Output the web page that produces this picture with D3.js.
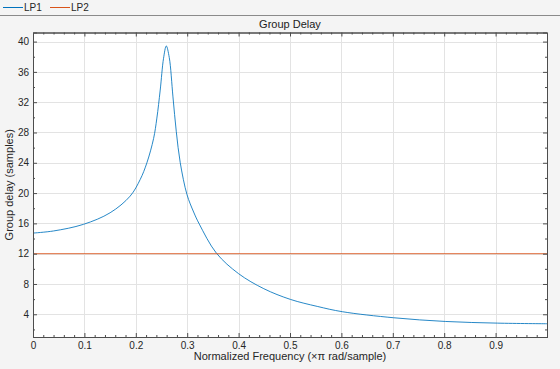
<!DOCTYPE html>
<html>
<head>
<meta charset="utf-8">
<script src="https://cdn.jsdelivr.net/npm/d3@7"></script>
<style>
  html, body { margin: 0; padding: 0; background: #f4f4f4; }
  svg { display: block; font-family: "Liberation Sans", Arial, sans-serif; }
  .tick text { fill: #262626; font-size: 10px; }
</style>
</head>
<body>
<div id="chart"></div>
<script>
// group delay, LP1 (normalized frequency, samples)
const lp1Freq = [0, 0.04, 0.098, 0.15, 0.189, 0.2086, 0.2216, 0.2346, 0.241, 0.2475, 0.254, 0.2593,
  0.2651, 0.2723, 0.2788, 0.2865, 0.2996, 0.3125, 0.3236, 0.3567, 0.40, 0.449, 0.501, 0.553,
  0.6017, 0.7018, 0.803, 0.904, 1.0];
const lp1Delay = [14.72, 15.0, 15.87, 17.4, 19.6, 21.8, 24.0, 27.2, 29.9, 33.6, 37.8, 39.42,
  37.9, 32.7, 28.1, 24.0, 19.8, 17.5, 15.9, 12.08, 9.36, 7.38, 5.96, 5.04,
  4.34, 3.54, 3.05, 2.83, 2.75];
// LP2 is flat
const lp2Freq = [0, 1];
const lp2Delay = [12, 12];

const xTicks = [0, 0.1, 0.2, 0.3, 0.4, 0.5, 0.6, 0.7, 0.8, 0.9];
const yTicks = [4, 8, 12, 16, 20, 24, 28, 32, 36, 40];
const seriesNames = ['LP1', 'LP2'];
const colors = ['#0072bd', '#d95319'];

const width = 560, height = 369;
const plot = { left: 33, right: 547, top: 32.5, bottom: 337 };

const svg = d3.select('#chart').append('svg')
  .attr('width', width).attr('height', height);

svg.append('rect').attr('width', width).attr('height', height).attr('fill', '#f4f4f4');

const xScale = d3.scaleLinear().domain([0, 1]).range([plot.left, plot.right]);
const yScale = d3.scaleLinear().domain([1, 41.2]).range([plot.bottom, plot.top]);

// plot background
svg.append('rect')
  .attr('x', plot.left).attr('y', plot.top)
  .attr('width', plot.right - plot.left).attr('height', plot.bottom - plot.top)
  .attr('fill', '#fff');

// gridlines
const grid = svg.append('g').attr('stroke', '#e3e3e3').attr('stroke-width', 1);
grid.selectAll('.gx').data(xTicks.slice(1)).join('line')
  .attr('x1', d => Math.round(xScale(d)) + 0.5).attr('x2', d => Math.round(xScale(d)) + 0.5)
  .attr('y1', plot.top).attr('y2', plot.bottom);
grid.selectAll('.gy').data(yTicks).join('line')
  .attr('y1', d => Math.round(yScale(d)) + 0.5).attr('y2', d => Math.round(yScale(d)) + 0.5)
  .attr('x1', plot.left).attr('x2', plot.right);

// lines
const series = [
  lp1Freq.map((f, i) => ({ f, v: lp1Delay[i] })),
  lp2Freq.map((f, i) => ({ f, v: lp2Delay[i] }))
];
const line = d3.line()
  .x(d => xScale(d.f))
  .y(d => yScale(d.v))
  .curve(d3.curveCatmullRom.alpha(0.5));

svg.append('g').selectAll('path').data(series).join('path')
  .attr('d', line)
  .attr('fill', 'none')
  .attr('stroke', (d, i) => colors[i])
  .attr('stroke-width', 0.85);

// axes
const xMinor = d3.range(1, 50).map(i => i * 0.02).filter(d => Math.abs(d * 10 - Math.round(d * 10)) > 1e-6);
const yMinor = d3.range(1, 21).map(i => i * 2).filter(d => d % 4 !== 0);

function styleAxis(g) {
  g.select('.domain').attr('stroke', '#4d4d4d');
  g.selectAll('.tick line').attr('stroke', '#4d4d4d');
}

svg.append('g')
  .attr('transform', `translate(0,${plot.bottom})`)
  .call(d3.axisBottom(xScale).tickValues(xTicks).tickSize(-4).tickPadding(5)
    .tickFormat(d => d === 0 ? '0' : d3.format('.1f')(d)))
  .call(styleAxis)
  .call(g => g.selectAll('.tick text').attr('font-size', 10));

svg.append('g')
  .attr('transform', `translate(0,${plot.bottom})`)
  .call(d3.axisBottom(xScale).tickValues(xMinor).tickSize(-2).tickFormat('').tickSizeOuter(0))
  .call(styleAxis);

svg.append('g')
  .attr('transform', `translate(0,${plot.top})`)
  .call(d3.axisTop(xScale).tickValues(xTicks).tickSize(-4).tickFormat(''))
  .call(styleAxis);

svg.append('g')
  .attr('transform', `translate(0,${plot.top})`)
  .call(d3.axisTop(xScale).tickValues(xMinor).tickSize(-2).tickFormat('').tickSizeOuter(0))
  .call(styleAxis);

svg.append('g')
  .attr('transform', `translate(${plot.left},0)`)
  .call(d3.axisLeft(yScale).tickValues(yTicks).tickSize(-4).tickPadding(4))
  .call(styleAxis)
  .call(g => g.selectAll('.tick text').attr('font-size', 10));

svg.append('g')
  .attr('transform', `translate(${plot.left},0)`)
  .call(d3.axisLeft(yScale).tickValues(yMinor).tickSize(-2).tickFormat('').tickSizeOuter(0))
  .call(styleAxis);

svg.append('g')
  .attr('transform', `translate(${plot.right},0)`)
  .call(d3.axisRight(yScale).tickValues(yTicks).tickSize(-4).tickFormat(''))
  .call(styleAxis);

svg.append('g')
  .attr('transform', `translate(${plot.right},0)`)
  .call(d3.axisRight(yScale).tickValues(yMinor).tickSize(-2).tickFormat('').tickSizeOuter(0))
  .call(styleAxis);

// title and axis labels
svg.append('text')
  .attr('x', (plot.left + plot.right) / 2).attr('y', 28)
  .attr('text-anchor', 'middle')
  .attr('font-size', 11).attr('fill', '#212121')
  .text('Group Delay');

svg.append('text')
  .attr('x', (plot.left + plot.right) / 2).attr('y', 360)
  .attr('text-anchor', 'middle')
  .attr('font-size', 11).attr('fill', '#262626')
  .text('Normalized Frequency (×π rad/sample)');

svg.append('text')
  .attr('transform', `translate(13,${(plot.top + plot.bottom) / 2}) rotate(-90)`)
  .attr('text-anchor', 'middle')
  .attr('font-size', 11).attr('fill', '#262626')
  .text('Group delay (samples)');

// legend bar
svg.append('line')
  .attr('x1', 0).attr('x2', width).attr('y1', 15.5).attr('y2', 15.5)
  .attr('stroke', '#8a8a8a');

const legend = svg.append('g').selectAll('g').data(seriesNames).join('g')
  .attr('transform', (d, i) => `translate(${3 + i * 47},7.5)`);
legend.append('line')
  .attr('x1', 0).attr('x2', 20)
  .attr('stroke', (d, i) => colors[i]).attr('stroke-width', 1);
legend.append('text')
  .attr('x', 21).attr('dy', '0.35em')
  .attr('font-size', 10).attr('fill', '#262626')
  .text(d => d);
</script>
</body>
</html>
